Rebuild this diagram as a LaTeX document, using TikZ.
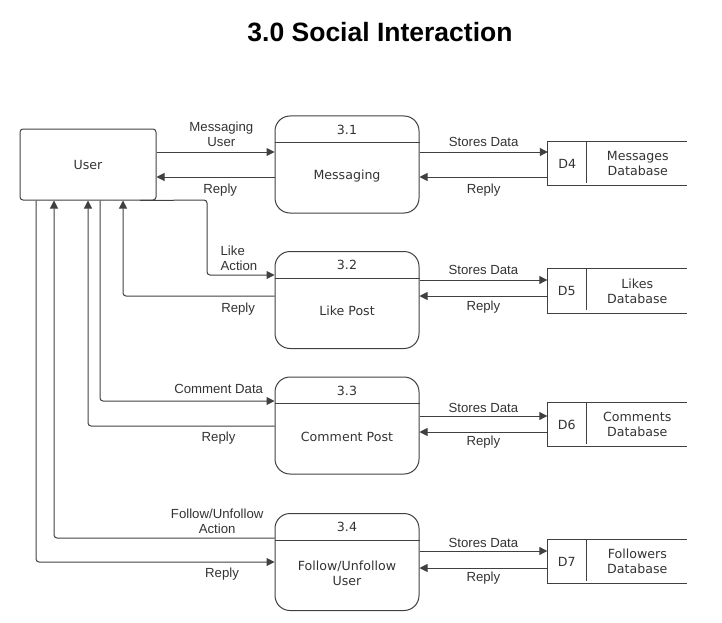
\documentclass[tikz,border=0pt]{standalone}
\usepackage{fontspec}
\setmainfont{Liberation Sans}
\newfontfamily\boxfont{DejaVu Sans}
\usetikzlibrary{arrows.meta}
\definecolor{linegray}{HTML}{404040}
\definecolor{textgray}{HTML}{333333}
\tikzset{
  ent/.style={draw=linegray, line width=1pt, rounded corners=3pt, minimum width=136pt, minimum height=71pt},
  proc/.style={draw=linegray, line width=1pt, rounded corners=15pt, minimum width=144pt, minimum height=97pt},
  store/.style={minimum width=139pt, minimum height=44pt, inner sep=0pt},
  boxtxt/.style={font=\boxfont\fontsize{12.6}{15}\selectfont, text=textgray, align=center, inner sep=0pt},
  lbl/.style={font=\fontsize{13.2}{15}\selectfont, text=textgray, align=center, inner sep=1pt},
  flow/.style={draw=linegray, line width=1pt, rounded corners=3pt, -{Triangle[length=8pt,width=8pt]}},
  title/.style={font=\bfseries\fontsize{26.5}{30}\selectfont}
}
\begin{document}
\begin{tikzpicture}[x=1pt,y=-1pt]
\useasboundingbox (0,0) rectangle (722,623);

\node[title] (title) at (380,32) {3.0 Social Interaction};

% external entity
\node[ent] (user) at (88,164.5) {};
\node[boxtxt] (usertxt) at (user.center) {User};

% processes
\node[proc] (p1) at (347,164.5) {};
\node[proc] (p2) at (347,300) {};
\node[proc] (p3) at (347,425.5) {};
\node[proc] (p4) at (347,562) {};
\foreach \p/\n in {p1/3.1,p2/3.2,p3/3.3,p4/3.4} {
  \draw[linegray, line width=1pt] ([yshift=-27pt]\p.north west) -- ([yshift=-27pt]\p.north east);
  \node[boxtxt] (\p num) at ([yshift=-14pt]\p.north) {\n};
}
\node[boxtxt] (p1txt) at ([yshift=-11.5pt]p1.center) {Messaging};
\node[boxtxt] (p2txt) at ([yshift=-11pt]p2.center) {Like Post};
\node[boxtxt] (p3txt) at ([yshift=-11pt]p3.center) {Comment Post};
\node[boxtxt] (p4txt) at ([yshift=-11pt]p4.center) {Follow/Unfollow\\User};

% data stores
\node[store] (d4) at (617.5,163.5) {};
\node[store] (d5) at (617,291) {};
\node[store] (d6) at (617,424.5) {};
\node[store] (d7) at (617,561.5) {};
\foreach \s in {d4,d5,d6,d7} {
  \draw[linegray, line width=1pt] (\s.north east) -- (\s.north west) -- (\s.south west) -- (\s.south east);
  \draw[linegray, line width=1pt] ([xshift=39pt]\s.north west) -- ([xshift=39pt,yshift=3pt]\s.south west);
}
\node[boxtxt] (d4id) at ([xshift=19.5pt]d4.west) {D4};
\node[boxtxt] (d5id) at ([xshift=19.5pt]d5.west) {D5};
\node[boxtxt] (d6id) at ([xshift=19.5pt]d6.west) {D6};
\node[boxtxt] (d7id) at ([xshift=19.5pt]d7.west) {D7};
\node[boxtxt] (d4txt) at ([xshift=90pt]d4.west) {Messages\\Database};
\node[boxtxt] (d5txt) at ([xshift=90pt]d5.west) {Likes\\Database};
\node[boxtxt] (d6txt) at ([xshift=90pt]d6.west) {Comments\\Database};
\node[boxtxt] (d7txt) at ([xshift=90pt]d7.west) {Followers\\Database};

% processes <-> stores
\draw[flow] (p1.east |- 0,152) -- node[lbl,above=4pt] {Stores Data} (d4.west |- 0,152);
\draw[flow] (d4.west |- 0,177) -- node[lbl,below=5pt] {Reply} (p1.east |- 0,177);
\draw[flow] (p2.east |- 0,280) -- node[lbl,above=4pt] {Stores Data} (d5.west |- 0,280);
\draw[flow] (d5.west |- 0,296) -- node[lbl,below=3pt] {Reply} (p2.east |- 0,296);
\draw[flow] (p3.east |- 0,416) -- node[lbl,above=2pt] {Stores Data} (d6.west |- 0,416);
\draw[flow] (d6.west |- 0,432) -- node[lbl,below=2pt] {Reply} (p3.east |- 0,432);
\draw[flow] (p4.east |- 0,551) -- node[lbl,above=2pt] {Stores Data} (d7.west |- 0,551);
\draw[flow] (d7.west |- 0,568) -- node[lbl,below=2pt] {Reply} (p4.east |- 0,568);

% user <-> processes
\draw[flow] (user.east |- 0,152) -- node[lbl,above=4pt,pos=0.55] {Messaging\\User} (p1.west |- 0,152);
\draw[flow] (p1.west |- 0,177) -- node[lbl,below=5pt,pos=0.46] {Reply} (user.east |- 0,177);
\draw[flow] (user.south -| 140,0) -- (207,200) -- (207,275)
  -- node[lbl,above=3pt,anchor=south west,align=left,pos=0.18] {Like\\Action} (p2.west |- 0,275);
\draw[flow] (p2.west |- 0,296) -- node[lbl,below=5pt,pos=0.24] {Reply} (123,296) -- (user.south -| 123,0);
\draw[flow] (user.south -| 100,0) -- (100,401)
  -- node[lbl,above=6pt,pos=0.68] {Comment Data} (p3.west |- 0,401);
\draw[flow] (p3.west |- 0,426) -- node[lbl,below=4pt,pos=0.30] {Reply} (88,426) -- (user.south -| 88,0);
\draw[flow] (p4.west |- 0,538) -- node[lbl,above=3pt,pos=0.26] {Follow/Unfollow\\Action} (54,538) -- (user.south -| 54,0);
\draw[flow] (user.south -| 36,0) -- (36,562)
  -- node[lbl,below=4pt,pos=0.78] {Reply} (p4.west |- 0,562);
\end{tikzpicture}
\end{document}
